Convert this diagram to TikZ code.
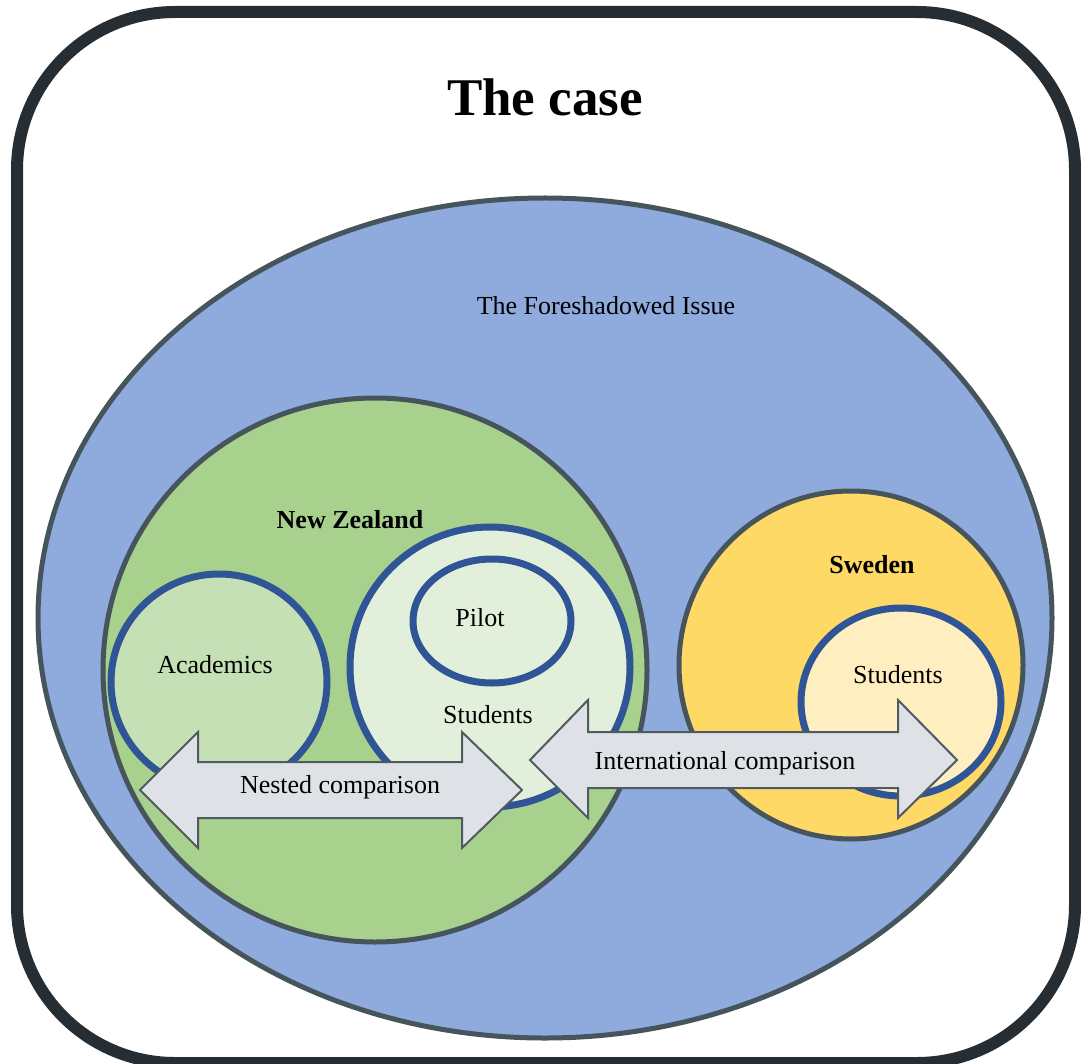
\documentclass[tikz,border=0pt]{standalone}
\usepackage{fontspec}
\setmainfont{Liberation Serif}
\definecolor{frame}{HTML}{262E33}
\definecolor{rim}{HTML}{46545C}
\definecolor{issue}{HTML}{8FAADC}
\definecolor{nz}{HTML}{A9D18E}
\definecolor{acad}{HTML}{C5E0B4}
\definecolor{stud}{HTML}{E2EFDA}
\definecolor{ring}{HTML}{2F5597}
\definecolor{swe}{HTML}{FFD966}
\definecolor{swestud}{HTML}{FFEFC0}
\definecolor{arrowfill}{HTML}{DEE2E6}
\definecolor{arrowrim}{HTML}{505B61}
\tikzset{
  region/.style={draw=rim, line width=5pt},
  group/.style={draw=ring, line width=7pt},
  bigarrow/.style={draw=arrowrim, fill=arrowfill, line width=2pt, line join=miter},
  lbl/.style={font=\fontsize{26}{30}\selectfont, inner sep=0pt},
  boldlbl/.style={font=\fontsize{26}{30}\selectfont\bfseries, inner sep=0pt}
}
\begin{document}
\begin{tikzpicture}[x=1pt,y=-1pt]
\useasboundingbox (0,0) rectangle (1081,1064);
% outer frame
\begin{scope}
\clip (0,0) rectangle (1081,1064);
\draw[frame, line width=12pt, rounded corners=158pt] (17,12) rectangle (1075,1063);
\end{scope}
\node[font=\fontsize{53}{60}\selectfont\bfseries, inner sep=0pt] (title) at (545,97) {The case};

% the foreshadowed issue
\draw[region, fill=issue] (545,618) ellipse [x radius=507, y radius=420];
\node[lbl] (issue) at (606,306) {The Foreshadowed Issue};

% New Zealand
\draw[region, fill=nz] (375,670) circle [radius=272];
\node[boldlbl] (nzl) at (350,520) {New Zealand};
\draw[group, fill=acad] (219,682) circle [radius=108];
\node[lbl] (acad) at (215,665) {Academics};
\draw[group, fill=stud] (490,667) circle [radius=140];
\node[lbl] (nzstud) at (488,715) {Students};
\draw[group, fill=stud] (492,621) ellipse [x radius=79, y radius=62];
\node[lbl] (pilot) at (480,618) {Pilot};

% Sweden
\draw[region, fill=swe] (851,665) ellipse [x radius=172, y radius=174];
\node[boldlbl] (swel) at (872,565) {Sweden};
\draw[group, fill=swestud] (901,702) ellipse [x radius=100, y radius=94];
\node[lbl] (swestud) at (898,675) {Students};

% comparison arrows
\draw[bigarrow] (140,790) -- (198,732) -- (198,762) -- (462,762) -- (462,732)
  -- (522,790) -- (462,848) -- (462,818) -- (198,818) -- (198,848) -- cycle;
\node[lbl] (nested) at (340,787) {Nested comparison};
\draw[bigarrow] (530,760) -- (588,700) -- (588,732) -- (898,732) -- (898,700)
  -- (957,760) -- (898,818) -- (898,788) -- (588,788) -- (588,818) -- cycle;
\node[lbl] (intl) at (725,763) {International comparison};
\end{tikzpicture}
\end{document}
